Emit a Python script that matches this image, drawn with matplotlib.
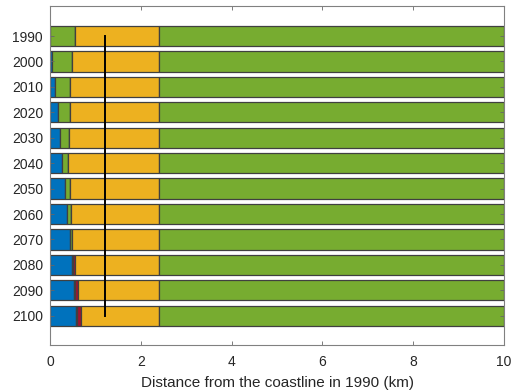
import matplotlib
matplotlib.use("Agg")
import numpy as np
import matplotlib.pyplot as plt

plt.rcParams['font.family'] = ['Liberation Sans', 'DejaVu Sans']

years = [1990, 2000, 2010, 2020, 2030, 2040, 2050, 2060, 2070, 2080, 2090, 2100]
# right edges of each zone (km)
blue_end = [0.00, 0.05, 0.12, 0.17, 0.22, 0.26, 0.32, 0.37, 0.43, 0.48, 0.52, 0.58]
green_end = [0.54, 0.48, 0.45, 0.43, 0.41, 0.40, 0.43, 0.46, 0.48, 0.51, 0.54, 0.60]
red_end = [0.54, 0.48, 0.45, 0.43, 0.41, 0.40, 0.43, 0.46, 0.49, 0.56, 0.61, 0.68]
yellow_end = [2.40] * 12
outer_end = [10.0] * 12
marker_x = 1.21

colors = ['#0072BD', '#77AC30', '#A2142F', '#EDB120', '#77AC30']
edges = [blue_end, green_end, red_end, yellow_end, outer_end]

fig = plt.figure(figsize=(5.17, 3.92), dpi=100)
ax = fig.add_axes([0.0967, 0.120, 0.8782, 0.8647])

left = np.zeros(len(years))
for col, e in zip(colors, edges):
    e = np.array(e)
    ax.barh(years, e - left, left=left, height=8, color=col,
            edgecolor='#404040', linewidth=0.9)
    left = e

ax.plot([marker_x, marker_x], [years[0], years[-1]], color='black', linewidth=1.4)

ax.set_xlim(0, 10)
ax.set_ylim(2111.5, 1978.2)
ax.set_yticks(years)
ax.set_yticklabels([str(y) for y in years])
ax.set_xticks(range(0, 11, 2))
ax.set_xlabel('Distance from the coastline in 1990 (km)', fontsize=11,
              color='#262626', labelpad=5)
ax.tick_params(direction='in', length=3, width=0.6, color='#666666',
               labelsize=10, labelcolor='#262626', top=True, right=True)
ax.tick_params(axis='x', pad=7)
ax.tick_params(axis='y', pad=5)
for s in ax.spines.values():
    s.set_color('#808080')
    s.set_linewidth(0.8)

fig.savefig('out.png', dpi=100)
